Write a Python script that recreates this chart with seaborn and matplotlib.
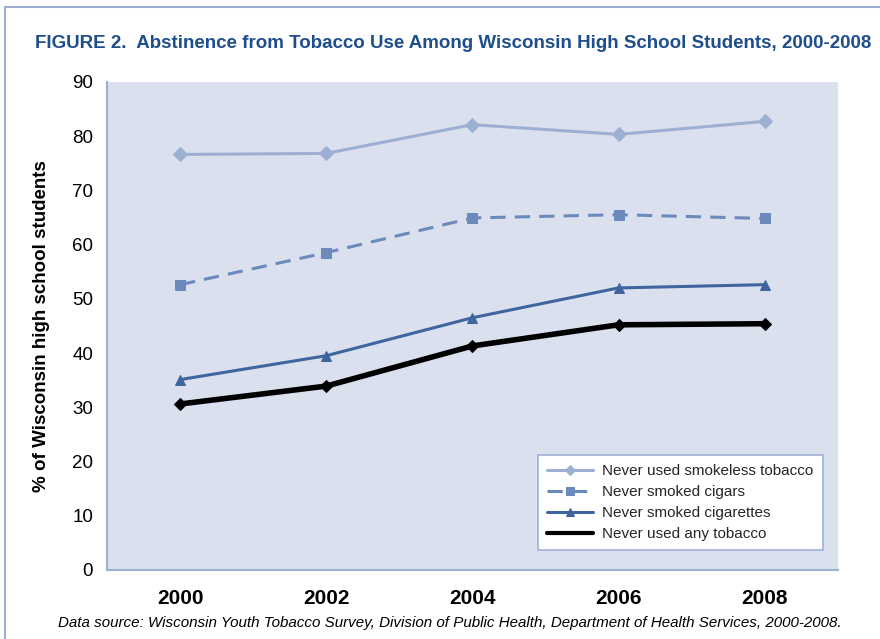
import pandas as pd
import numpy as np
import matplotlib.pyplot as plt
import seaborn as sns
from matplotlib.patches import Rectangle

years = ['2000', '2002', '2004', '2006', '2008']
smokeless = [76.6, 76.8, 82.1, 80.3, 82.7]
cigars = [52.6, 58.5, 64.9, 65.5, 64.8]
cigarettes = [35.1, 39.5, 46.5, 52.0, 52.6]
any_tobacco = [30.6, 33.9, 41.3, 45.2, 45.4]

series = [
    ('Never used smokeless tobacco', smokeless, '#9db0d3', 'D', (None, None), 2.2, 7),
    ('Never smoked cigars', cigars, '#6c89bb', 's', (5, 3), 2.2, 7),
    ('Never smoked cigarettes', cigarettes, '#3f659e', '^', (None, None), 2.2, 7),
    ('Never used any tobacco', any_tobacco, '#000000', 'D', (None, None), 4.0, 6),
]

sns.set_style('white')
plt.rcParams['font.family'] = ['Liberation Sans', 'DejaVu Sans']

fig = plt.figure(figsize=(8.8, 6.39), dpi=100)
ax = fig.add_axes([0.1216, 0.108, 0.8304, 0.764])
ax.set_facecolor('#dae0ee')

x = np.arange(len(years))
for name, vals, color, marker, dash, lw, ms in series:
    df = pd.DataFrame({'x': x, 'y': vals})
    kw = {}
    if dash[0] is not None:
        kw['dashes'] = dash
    sns.lineplot(data=df, x='x', y='y', ax=ax, color=color, marker=marker,
                 markersize=ms, markeredgecolor=color, linewidth=lw,
                 label=name, **kw)

ax.set_xlim(-0.5, 4.5)
ax.set_ylim(0, 90)
ax.set_yticks(range(0, 91, 10))
ax.set_xticks(x)
ax.set_xticklabels(years, fontsize=15, fontweight='bold')
ax.set_xticks(np.arange(-0.5, 4.6, 1), minor=True)
ax.tick_params(axis='x', which='major', length=0, pad=14, labelcolor='black')
ax.tick_params(axis='x', which='minor', length=5, color='#9db0d3', width=1.2)
ax.tick_params(axis='y', length=5, color='#9db0d3', width=1.2, labelsize=13.5, pad=5,
               labelcolor='black')
ax.set_xlabel('')
ax.set_ylabel('% of Wisconsin high school students', fontsize=13.5, fontweight='bold',
              labelpad=16, color='black')

for s in ['top', 'right']:
    ax.spines[s].set_visible(False)
for s in ['left', 'bottom']:
    ax.spines[s].set_color('#9db0d3')
    ax.spines[s].set_linewidth(1.5)

leg = ax.legend(loc='lower right', bbox_to_anchor=(0.99, 0.025), fontsize=11,
                frameon=True, fancybox=False, handlelength=3.0, borderpad=0.6,
                labelspacing=0.45, handletextpad=0.6, markerscale=0.8)
leg.get_frame().set_edgecolor('#9db0d3')
leg.get_frame().set_facecolor('white')
leg.get_frame().set_alpha(1)
leg.get_frame().set_linewidth(1.2)
leg.legend_handles[3].set_marker('')
leg.legend_handles[3].set_linewidth(3)

fig.text(0.04, 0.925, 'FIGURE 2.  Abstinence from Tobacco Use Among Wisconsin High School Students, 2000-2008',
         fontsize=13.5, fontweight='bold', color='#1f4e8c')
fig.text(0.066, 0.018, 'Data source: Wisconsin Youth Tobacco Survey, Division of Public Health, Department of Health Services, 2000-2008.',
         fontsize=10.9, style='italic', color='#000000')

fig.patches.append(Rectangle((0.006, -0.05), 1.1, 1.039, transform=fig.transFigure,
                             fill=False, edgecolor='#9db0d3', linewidth=1.5))

fig.savefig('out.png', dpi=100)
